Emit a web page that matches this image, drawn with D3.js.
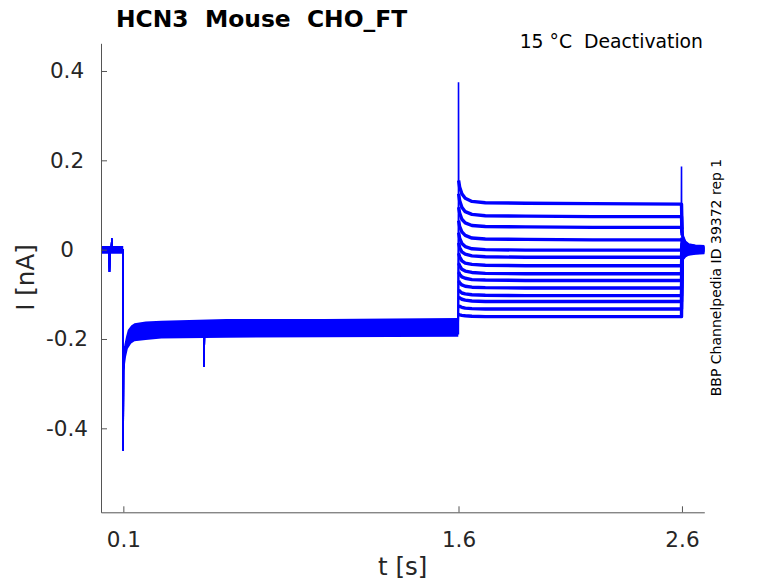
<!DOCTYPE html>
<html>
<head>
<meta charset="utf-8">
<script src="https://cdn.jsdelivr.net/npm/d3@7"></script>
<style>
  html, body { margin: 0; padding: 0; background: #fff; }
  svg { display: block; font-family: "DejaVu Sans", sans-serif; }
</style>
</head>
<body>
<svg id="chart" width="778" height="583"></svg>
<script>
// holding part, shared by every sweep (t in s, I in nA)
const holdT = [0, 0.036, 0.038, 0.040, 0.046, 0.048, 0.050, 0.0995, 0.1, 0.1008, 0.102, 0.105, 0.11, 0.118, 0.13, 0.145, 0.165, 0.2, 0.28, 0.4605, 0.462, 0.4635, 0.7, 1.0, 1.3, 1.599]
const holdI = [0, 0, -0.05, 0, 0, 0.025, 0, 0, -0.45, -0.27, -0.245, -0.232, -0.215, -0.2, -0.19, -0.184, -0.181, -0.179, -0.177, -0.176, -0.262, -0.176, -0.175, -0.175, -0.174, -0.173]

// noise envelope of the overlapping holding sweeps
const bandT  = [0, 0.0995, 0.1015, 0.105, 0.112, 0.12, 0.135, 0.15, 0.2, 0.27, 0.56, 1.0, 1.599]
const bandHi = [0.008, 0.008, -0.225, -0.212, -0.195, -0.18, -0.17, -0.165, -0.161, -0.159, -0.155, -0.155, -0.153]
const bandLo = [-0.009, -0.009, -0.28, -0.265, -0.24, -0.222, -0.21, -0.205, -0.202, -0.199, -0.197, -0.196, -0.195]

// test pulse, one row per sweep
const stepT = [1.6005, 1.605, 1.615, 1.63, 1.66, 1.72, 1.9, 2.2, 2.598]
const stepI = [
  [0.155, 0.140, 0.125, 0.115, 0.108, 0.105, 0.104, 0.103, 0.102],
  [0.125, 0.110, 0.095, 0.085, 0.079, 0.076, 0.075, 0.074, 0.074],
  [0.095, 0.082, 0.068, 0.060, 0.054, 0.052, 0.051, 0.050, 0.050],
  [0.065, 0.052, 0.040, 0.032, 0.026, 0.024, 0.023, 0.022, 0.022],
  [0.038, 0.026, 0.014, 0.007, 0.002, 0.000, -0.001, -0.001, -0.001],
  [0.015, 0.005, -0.005, -0.010, -0.014, -0.016, -0.017, -0.017, -0.017],
  [-0.008, -0.016, -0.025, -0.030, -0.033, -0.035, -0.036, -0.036, -0.036],
  [-0.030, -0.036, -0.044, -0.048, -0.051, -0.053, -0.054, -0.054, -0.054],
  [-0.050, -0.055, -0.061, -0.064, -0.067, -0.068, -0.069, -0.069, -0.069],
  [-0.070, -0.074, -0.079, -0.082, -0.084, -0.085, -0.086, -0.086, -0.086],
  [-0.090, -0.093, -0.097, -0.099, -0.101, -0.102, -0.103, -0.103, -0.103],
  [-0.106, -0.108, -0.111, -0.113, -0.115, -0.116, -0.116, -0.116, -0.116],
  [-0.125, -0.127, -0.129, -0.131, -0.132, -0.133, -0.133, -0.133, -0.133],
  [-0.145, -0.146, -0.147, -0.148, -0.149, -0.150, -0.150, -0.150, -0.150]
]

// tail after the pulse
const tailT = [2.6005, 2.605, 2.615, 2.63, 2.66, 2.7]
const tailI = [
  [0.045, 0.030, 0.018, 0.012, 0.009, 0.008],
  [0.038, 0.025, 0.015, 0.010, 0.007, 0.006],
  [0.032, 0.021, 0.012, 0.008, 0.006, 0.005],
  [0.026, 0.017, 0.010, 0.006, 0.004, 0.004],
  [0.020, 0.013, 0.007, 0.004, 0.003, 0.003],
  [0.014, 0.009, 0.005, 0.003, 0.002, 0.002],
  [0.008, 0.005, 0.002, 0.001, 0.001, 0.001],
  [0.002, 0.001, 0.000, 0.000, 0.000, 0.000],
  [-0.004, -0.003, -0.002, -0.001, -0.001, -0.001],
  [-0.010, -0.007, -0.004, -0.003, -0.002, -0.002],
  [-0.015, -0.011, -0.007, -0.005, -0.004, -0.003],
  [-0.020, -0.015, -0.010, -0.007, -0.005, -0.004],
  [-0.024, -0.018, -0.012, -0.009, -0.007, -0.006],
  [-0.028, -0.021, -0.015, -0.011, -0.009, -0.008]
]

// capacitive spikes at the pulse edges
const spikeOnT  = [1.5995, 1.6, 1.6008]
const spikeOnI  = [-0.19, 0.375, 0.15]
const spikeOffT = [2.5975, 2.598, 2.5985]
const spikeOffI = [0.102, 0.186, 0.045]

const xTicks = [0.1, 1.6, 2.6]
const yTicks = [-0.4, -0.2, 0, 0.2, 0.4]

const title    = 'HCN3  Mouse  CHO_FT'
const subTitle = '15 °C  Deactivation'
const sideNote = 'BBP Channelpedia ID 39372 rep 1'

const
  svg     = d3.select('#chart'),
  plotL   = 101,
  plotR   = 704.3,
  plotT   = 43.3,
  plotB   = 512.3,
  blue    = '#0000ff',
  ink     = '#262626'

const x = d3.scaleLinear().domain([0, 2.7]).range([plotL, plotR])
const y = d3.scaleLinear().domain([-0.588, 0.462]).range([plotB, plotT])

const zip = (ts, vs) => ts.map((t, i) => [t, vs[i]])

const line = d3.line()
  .x(d => x(d[0]))
  .y(d => y(d[1]))

const area = d3.area()
  .x(d => x(d[0]))
  .y0(d => y(d[1]))
  .y1(d => y(d[2]))

const plot = svg.append('g')

// holding band
plot.append('path')
  .attr('d', area(bandT.map((t, i) => [t, bandLo[i], bandHi[i]])))
  .attr('fill', blue)

// sweeps
const holdPts = zip(holdT, holdI)
stepI.forEach((row, k) =>
{
  const pts = holdPts.concat(zip(stepT, row), zip(tailT, tailI[k]))
  plot.append('path')
    .attr('d', line(pts))
    .attr('fill', 'none')
    .attr('stroke', blue)
    .attr('stroke-width', 1.2)
  // thicker pulse segment to show the noise width
  plot.append('path')
    .attr('d', line(zip(stepT, row).concat(zip(tailT, tailI[k]).slice(0, 1))))
    .attr('fill', 'none')
    .attr('stroke', blue)
    .attr('stroke-width', 3.4)
    .attr('stroke-linejoin', 'round')
  plot.append('path')
    .attr('d', line(zip(tailT, tailI[k])))
    .attr('fill', 'none')
    .attr('stroke', blue)
    .attr('stroke-width', 2.2)
})

;[zip(spikeOnT, spikeOnI), zip(spikeOffT, spikeOffI)].forEach(pts =>
{
  plot.append('path')
    .attr('d', line(pts))
    .attr('fill', 'none')
    .attr('stroke', blue)
    .attr('stroke-width', 1.6)
})

// axes
const xAxis = svg.append('g')
  .attr('transform', `translate(0,${plotB})`)
  .call(d3.axisBottom(x).tickValues(xTicks).tickFormat(d3.format('.1f'))
    .tickSizeInner(-6).tickSizeOuter(0).tickPadding(19))
const yAxis = svg.append('g')
  .attr('transform', `translate(${plotL},0)`)
  .call(d3.axisLeft(y).tickValues(yTicks).tickFormat(d => d === 0 ? '0' : d3.format('.1f')(d).replace('−', '-'))
    .tickSizeInner(-6).tickSizeOuter(0).tickPadding(34))

;[xAxis, yAxis].forEach(g =>
{
  g.select('.domain').attr('stroke', '#555').attr('stroke-width', 1)
  g.selectAll('.tick line').attr('stroke', '#555')
  g.selectAll('.tick text')
    .attr('fill', ink)
    .style('font-size', '21.5px')
    .style('font-family', '"DejaVu Sans", sans-serif')
})
yAxis.selectAll('.tick text').attr('text-anchor', 'middle')

// texts
svg.append('text')
  .attr('x', 116).attr('y', 26.7)
  .style('font-size', '23.4px').style('font-weight', 'bold')
  .style('white-space', 'pre')
  .attr('fill', '#000')
  .text(title)

svg.append('text')
  .attr('x', 703).attr('y', 48)
  .attr('text-anchor', 'end')
  .style('font-size', '18.8px')
  .style('white-space', 'pre')
  .attr('fill', '#000')
  .text(subTitle)

svg.append('text')
  .attr('transform', `translate(721,277.5) rotate(-90)`)
  .attr('text-anchor', 'middle')
  .style('font-size', '14px')
  .attr('fill', '#000')
  .text(sideNote)

svg.append('text')
  .attr('transform', `translate(34,277.5) rotate(-90)`)
  .attr('text-anchor', 'middle')
  .style('font-size', '24.5px')
  .attr('fill', ink)
  .text('I [nA]')

svg.append('text')
  .attr('x', (plotL + plotR) / 2).attr('y', 575)
  .attr('text-anchor', 'middle')
  .style('font-size', '24.5px')
  .attr('fill', ink)
  .text('t [s]')
</script>
</body>
</html>
